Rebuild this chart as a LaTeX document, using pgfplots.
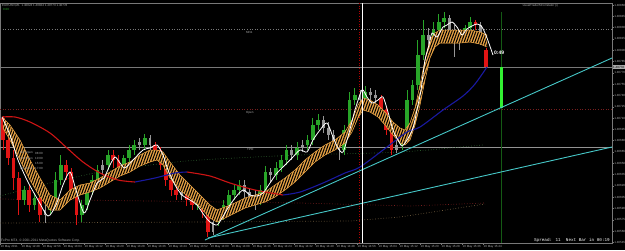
\documentclass[border=0pt]{standalone}
\usepackage{fontspec}
\setmainfont{Liberation Sans}
\newfontfamily\monofont{Liberation Mono}
\usepackage{pgfplots}
\usepackage{pgfplotstable}
\pgfplotsset{compat=1.18}
\usetikzlibrary{patterns.meta}

\definecolor{axisgray}{RGB}{120,120,120}
\definecolor{labgray}{RGB}{170,170,170}
\definecolor{cgreen}{RGB}{40,165,40}
\definecolor{cred}{RGB}{225,20,20}
\definecolor{cgray}{RGB}{150,150,150}
\definecolor{bright}{RGB}{50,240,50}
\definecolor{bandc}{RGB}{235,165,70}
\definecolor{mared}{RGB}{205,20,20}
\definecolor{mablue}{RGB}{25,25,160}
\definecolor{cyanl}{RGB}{70,200,200}
\definecolor{dkred}{RGB}{120,30,30}
\definecolor{dkgreen}{RGB}{45,95,45}
\definecolor{brownd}{RGB}{110,90,60}
\definecolor{vgreen}{RGB}{20,90,20}

\newcommand\tinyf{\fontsize{3}{3.5}\selectfont}

% candles: x open close high low  (values in chart rows, top = 0)
\pgfplotstableread{
x o c h l
24 200 190 186 205
34.5 205 198 193 210
50.25 210 200 196 215
55.5 200 180 172 205
60.75 180 165 155 185
81.75 215 205 200 222
87 205 190 185 210
92.25 190 180 175 195
97.5 180 170 165 185
108 165 155 150 170
123.75 168 158 155 172
129 158 150 145 162
134.25 150 145 140 155
144.75 145 138 134 150
197.25 205 200 196 210
218.25 222 215 210 226
223.5 215 205 200 220
228.75 205 195 190 210
234 195 190 185 200
239.25 190 185 180 195
260.25 195 190 185 205
265.5 190 172 166 195
276 175 168 162 180
281.25 168 160 155 172
286.5 160 150 145 165
297 155 148 142 160
307.5 145 140 135 150
312.75 140 125 118 145
318 125 120 114 130
344.25 150 130 125 155
349.5 130 100 92 135
354.75 100 95 88 105
365.25 100 92 86 104
402 145 135 130 150
407.25 135 100 90 140
412.5 100 85 80 105
417.75 85 55 40 90
423 55 35 20 60
433.5 40 30 22 45
438.75 30 22 14 35
444 22 18 12 28
465 35 28 25 40
470.25 28 22 17 30
}\greentab

\pgfplotstableread{
x o c h l
3 118 140 116 150
8.25 140 158 135 165
13.5 158 178 150 190
18.75 178 200 172 215
29.25 190 205 185 212
39.75 198 215 195 222
66 165 172 160 180
71.25 172 195 168 200
76.5 195 215 190 225
113.25 155 160 150 168
118.5 160 168 155 172
155.25 145 150 142 156
160.5 150 165 147 170
165.75 165 180 160 186
171 180 190 176 196
176.25 190 195 186 200
186.75 192 200 188 206
192 200 205 196 210
202.5 200 212 197 218
207.75 212 232 208 237
381 98 110 95 115
386.25 110 130 106 135
391.5 130 150 125 155
475.5 22 25 20 30
486 50 67 48 68
}\redtab

\pgfplotstableread{
x o c h l
45 215 210 205 223
102.75 170 165 160 175
139.5 145 142 138 150
150 138 145 135 150
181.5 195 192 188 200
213 232 222 218 235
244.5 185 192 180 200
249.75 192 198 188 205
255 198 195 190 210
270.75 172 175 168 182
291.75 150 155 145 160
302.25 148 145 140 152
323.25 120 128 116 133
328.5 128 135 122 140
333.75 135 145 130 150
339 145 150 140 160
360 95 100 90 106
370.5 92 95 88 100
375.75 95 98 90 103
396.75 150 145 140 153
428.25 35 40 28 45
449.25 18 30 15 35
454.5 30 40 25 57
459.75 40 35 30 50
480.75 25 35 22 45
}\graytab

\pgfplotstableread{
x o c h l
501 108 67 67 108
}\curtab

% orange band edges: x upper lower
\pgfplotstableread{
x u l
3 118 128
10 125 140
20 140 160
30 160 180
40 178 197
50 195 210
60 200 210
70 190 200
80 185 195
90 183 192
100 178 188
110 172 182
120 166 176
130 162 172
140 155 166
150 150 162
157 150 160
163 152 165
170 162 178
180 175 190
190 185 198
200 195 207
210 205 218
217 210 222
225 207 218
235 203 213
245 198 208
255 195 205
265 192 202
275 185 197
285 178 190
295 170 182
305 160 172
315 152 162
325 145 155
335 140 150
345 132 143
352 120 132
358 105 118
363 98 110
370 100 112
378 105 117
385 112 125
393 122 135
400 128 143
405 130 145
410 123 140
415 108 125
420 85 105
425 60 80
430 40 58
435 33 47
440 30 43
450 30 43
460 30 43
470 30 42
480 32 44
487 35 47
}\bandtab

% same band as one outline (upper edge forward, lower edge back)
\pgfplotstableread{
x y
3 118
10 125
20 140
30 160
40 178
50 195
60 200
70 190
80 185
90 183
100 178
110 172
120 166
130 162
140 155
150 150
157 150
163 152
170 162
180 175
190 185
200 195
210 205
217 210
225 207
235 203
245 198
255 195
265 192
275 185
285 178
295 170
305 160
315 152
325 145
335 140
345 132
352 120
358 105
363 98
370 100
378 105
385 112
393 122
400 128
405 130
410 123
415 108
420 85
425 60
430 40
435 33
440 30
450 30
460 30
470 30
480 32
487 35
487 47
480 44
470 42
460 43
450 43
440 43
435 47
430 58
425 80
420 105
415 125
410 140
405 145
400 143
393 135
385 125
378 117
370 112
363 110
358 118
352 132
345 143
335 150
325 155
315 162
305 172
295 182
285 190
275 197
265 202
255 205
245 208
235 213
225 218
217 222
210 218
200 207
190 198
180 190
170 178
163 165
157 160
150 162
140 166
130 172
120 176
110 182
100 188
90 192
80 195
70 200
60 210
50 210
40 197
30 180
20 160
10 140
3 128
}\bandpoly

\pgfplotstableread{
x y
2 117
10 135
18 160
28 182
38 200
48 216
56 205
63 185
70 172
76 190
84 213
90 200
97 183
104 178
110 165
115 157
120 163
125 168
133 160
143 150
150 148
157 145
163 155
168 170
175 185
182 195
190 200
197 205
204 215
210 222
217 225
222 218
228 208
235 198
243 190
250 195
257 196
263 193
270 183
277 173
285 165
292 158
300 150
307 152
313 140
320 130
327 123
333 137
338 148
343 152
349 133
355 110
362 90
367 97
372 103
378 100
383 97
388 112
393 130
398 140
402 146
407 140
413 128
418 105
421 90
425 60
429 45
432 33
437 37
443 27
447 25
452 22
457 27
462 35
466 30
470 27
477 24
482 27
487 38
493 55
}\whitetab

\begin{document}
\begin{tikzpicture}
\fill[black] (0,0) rectangle (625pt,250pt);
\begin{axis}[
  at={(0pt,7pt)}, anchor=south west,
  scale only axis, width=612pt, height=240pt,
  xmin=0, xmax=612, ymin=3, ymax=243, y dir=reverse,
  clip mode=individual,
  axis line style={draw=axisgray, line width=0.5pt},
  tick style={draw=axisgray, line width=0.4pt},
  tick align=outside, major tick length=1.5pt,
  xtick pos=bottom, ytick pos=right,
  xtick={0,21,42,63,84,105,126,147,168,189,210,231,252,273,294,315,336,357,378,399,420,441,462,483},
  xticklabels={10 May 2011,10 May 12:48,10 May 12:56,10 May 13:04,10 May 13:12,10 May 13:20,10 May 13:28,10 May 13:36,10 May 13:44,10 May 13:52,10 May 14:00,10 May 14:08,10 May 14:16,10 May 14:24,10 May 14:32,10 May 14:40,10 May 14:48,10 May 14:56,10 May 15:04,10 May 15:12,10 May 15:20,10 May 15:28,10 May 15:36,10 May 15:44},
  xticklabel style={anchor=north west, inner sep=0.4pt, font=\tinyf, text=labgray},
  ytick={5,16.3,27.6,38.9,50.2,61.5,72.8,84.1,95.4,106.7,118,129.3,140.6,151.9,163.2,174.5,185.8,197.1,208.4,219.7,231,242.3},
  yticklabels={1.40860,1.40845,1.40830,1.40815,1.40800,1.40785,1.40770,1.40755,1.40740,1.40725,1.40710,1.40695,1.40680,1.40665,1.40650,1.40635,1.40620,1.40605,1.40590,1.40575,1.40560,1.40545},
  yticklabel pos=right,
  yticklabel style={anchor=west, inner sep=0.6pt, font=\tinyf, text=labgray},
]
% level lines
\addplot[axisgray, dotted, line width=0.6pt, forget plot] coordinates {(0,29) (612,29)};
\addplot[axisgray, line width=0.6pt, forget plot] coordinates {(0,67) (612,67)};
\addplot[dkred, dotted, line width=0.6pt, forget plot] coordinates {(0,109) (612,109)};
\addplot[gray!85!white, line width=0.7pt, forget plot] coordinates {(0,147) (612,147)};
\addplot[dkgreen, dotted, line width=0.7pt, smooth, forget plot] coordinates {(0,196) (50,183) (100,172) (150,165) (200,160) (300,155) (400,152) (483,145)};
\addplot[dkred, dotted, line width=0.7pt, forget plot] coordinates {(0,199) (300,203) (410,206) (485,203)};
\addplot[brownd, dotted, line width=0.7pt, forget plot] coordinates {(0,223) (200,222) (350,221) (400,217) (485,204)};
% vertical markers
\addplot[red!70!black, dotted, line width=0.6pt, forget plot] coordinates {(359,3) (359,243)};
\addplot[vgreen, line width=0.6pt, forget plot] coordinates {(501,12) (501,243)};
% candles: wicks then bodies
\addplot[draw=none, forget plot, error bars/.cd, y dir=both, y explicit, error mark=none, error bar style={draw=cgreen, line width=0.8pt}]
  table[x=x, y expr={(\thisrow{h}+\thisrow{l})/2}, y error expr={(\thisrow{l}-\thisrow{h})/2}] {\greentab};
\addplot[draw=none, forget plot, error bars/.cd, y dir=both, y explicit, error mark=none, error bar style={draw=cgreen, line width=3.6pt}]
  table[x=x, y expr={(\thisrow{o}+\thisrow{c})/2}, y error expr={abs(\thisrow{o}-\thisrow{c})/2}] {\greentab};
\addplot[draw=none, forget plot, error bars/.cd, y dir=both, y explicit, error mark=none, error bar style={draw=cred, line width=0.8pt}]
  table[x=x, y expr={(\thisrow{h}+\thisrow{l})/2}, y error expr={(\thisrow{l}-\thisrow{h})/2}] {\redtab};
\addplot[draw=none, forget plot, error bars/.cd, y dir=both, y explicit, error mark=none, error bar style={draw=cred, line width=3.6pt}]
  table[x=x, y expr={(\thisrow{o}+\thisrow{c})/2}, y error expr={abs(\thisrow{o}-\thisrow{c})/2}] {\redtab};
\addplot[draw=none, forget plot, error bars/.cd, y dir=both, y explicit, error mark=none, error bar style={draw=cgray, line width=0.8pt}]
  table[x=x, y expr={(\thisrow{h}+\thisrow{l})/2}, y error expr={(\thisrow{l}-\thisrow{h})/2}] {\graytab};
\addplot[draw=none, forget plot, error bars/.cd, y dir=both, y explicit, error mark=none, error bar style={draw=cgray, line width=2.6pt}]
  table[x=x, y expr={(\thisrow{o}+\thisrow{c})/2}, y error expr={abs(\thisrow{o}-\thisrow{c})/2}] {\graytab};
\addplot[draw=none, forget plot, error bars/.cd, y dir=both, y explicit, error mark=none, error bar style={draw=bright, line width=3pt}]
  table[x=x, y expr={(\thisrow{o}+\thisrow{c})/2}, y error expr={abs(\thisrow{o}-\thisrow{c})/2}] {\curtab};
% orange band (hatched histogram between two lines)
\addplot[draw=none, fill=bandc, forget plot] table[x=x, y=y] {\bandpoly} -- cycle;
\addplot[draw=none, pattern={Lines[angle=70,distance=2.5pt,line width=1.05pt]}, pattern color=black, forget plot] table[x=x, y=y] {\bandpoly} -- cycle;
\addplot[bandc, line width=0.5pt, forget plot] table[x=x, y=u] {\bandtab};
\addplot[bandc, line width=0.5pt, forget plot] table[x=x, y=l] {\bandtab};
% slow MA (red falling, blue rising)
\addplot[mared, line width=1.1pt, smooth, forget plot] coordinates {(2,117) (15,117) (30,122) (50,133) (67,148) (83,162) (100,173) (118,180) (135,182)};
\addplot[mablue, line width=1.1pt, smooth, forget plot] coordinates {(135,182) (155,178) (175,173) (187,172)};
\addplot[mared, line width=1.1pt, smooth, forget plot] coordinates {(187,172) (210,176) (230,183) (255,190) (283,195)};
\addplot[mablue, line width=1.1pt, smooth, forget plot] coordinates {(283,195) (300,192) (323,183) (345,173) (360,167) (387,147) (407,132) (420,127) (443,110) (463,96) (475,84) (487,67)};
% fast line
\addplot[white, line width=0.8pt, smooth, tension=0.45, forget plot] table[x=x, y=y] {\whitetab};
% trend lines
\addplot[cyanl, line width=0.9pt, forget plot] coordinates {(205,240) (612,58)};
\addplot[cyanl, line width=0.9pt, forget plot] coordinates {(208,238) (612,147)};
% vertical white line
\addplot[white, line width=0.8pt, forget plot] coordinates {(362,3) (362,243)};
% texts
\node[anchor=west, font=\tinyf, text=labgray, inner sep=0pt] at (axis cs:2,5.5) {EURUSD,M1\ \ 1.40824 1.40824 1.40773 1.40778};
\node[anchor=west, font=\tinyf, text=cgreen, inner sep=0pt] at (axis cs:3,9.5) {0.00};
\node[anchor=east, font=\tinyf, text=labgray, inner sep=0pt] at (axis cs:558,5.5) {visualTraderSCorrelator (i)};
\node[anchor=west, font=\tinyf, text=labgray, inner sep=0pt] at (axis cs:246,32.5) {MN1};
\node[anchor=west, font=\tinyf, text=labgray, inner sep=0pt] at (axis cs:246,112.5) {Open};
\node[anchor=west, font=\tinyf, text=labgray, inner sep=0pt] at (axis cs:247,149.5) {TPO};
\node[anchor=east, font=\tinyf, text=labgray, inner sep=0pt] at (axis cs:33,153) {EU Open};
\node[anchor=west, font=\tinyf, text=labgray, inner sep=0pt] at (axis cs:35,153) {08:00};
\node[anchor=east, font=\tinyf, text=labgray, inner sep=0pt] at (axis cs:33,158.5) {US Open};
\node[anchor=west, font=\tinyf, text=labgray, inner sep=0pt] at (axis cs:35,158.5) {10:00};
\node[anchor=west, font=\tinyf, text=labgray, inner sep=0pt] at (axis cs:35,163.5) {15:00};
\node[anchor=east, font=\tinyf, text=labgray, inner sep=0pt] at (axis cs:33,168.5) {EU Close};
\node[anchor=west, font=\tinyf, text=labgray, inner sep=0pt] at (axis cs:35,168.5) {17:00};
\node[anchor=west, font=\fontsize{5}{5}\selectfont\bfseries, text=white, inner sep=0pt] at (axis cs:494,53) {0:49};
\node[anchor=west, font=\fontsize{3.3}{3.5}\selectfont, text=labgray, inner sep=0pt] at (axis cs:1,240.5) {FxPro MT4, \textcopyright{} 2001-2011 MetaQuotes Software Corp.};
\node[anchor=east, font=\monofont\fontsize{4.3}{4.5}\selectfont, text=white, inner sep=0pt] at (axis cs:610,240.5) {Spread: 11\ \ Next Bar in 00:19};
\node[anchor=west, font=\tinyf, fill=labgray, text=black, inner sep=0.5pt] at (axis cs:612.5,67) {1.40778};
\end{axis}
\pgfresetboundingbox
\useasboundingbox (0,0) rectangle (625pt,250pt);
\end{tikzpicture}
\end{document}
